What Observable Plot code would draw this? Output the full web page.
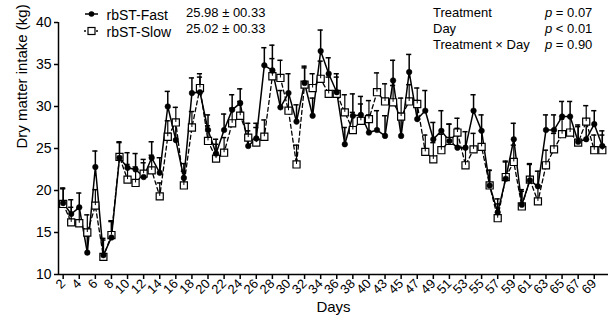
<!DOCTYPE html>
<html>
<head>
<meta charset="utf-8">
<script src="https://cdn.jsdelivr.net/npm/d3@7"></script>
<script src="https://cdn.jsdelivr.net/npm/@observablehq/plot@0.6"></script>
<style>
  body { margin: 0; background: #fff; }
  #wrap { position: relative; width: 610px; height: 322px; font-family: "Liberation Sans", Arial, sans-serif; }
  #wrap svg.overlay { position: absolute; left: 0; top: 0; pointer-events: none; }
  g[aria-label="x-axis tick label"] text { font-size: 13px; }
  g[aria-label="y-axis tick label"] text { font-size: 14px; }
  g[aria-label="x-axis tick"] path, g[aria-label="y-axis tick"] path { stroke-width: 1.5px; }
</style>
</head>
<body>
<div id="wrap"></div>
<script>
// Days (categorical positions on the x axis)
const days = [2,3,4,5,6,7,8,9,10,11,12,13,14,15,16,17,18,19,20,21,22,23,24,25,26,27,28,29,30,31,32,33,34,35,36,37,38,39,40,
              42,43,44,45,46,47,48,49,50,51,52,53,54,55,56,57,58,59,60,61,62,63,64,65,66,67,68,69,70];

// Dry matter intake, kg (means)
const fast = [18.5,17.2,18.0,12.6,22.8,12.3,14.4,23.9,22.7,22.5,21.6,23.9,22.1,30.0,26.0,21.5,31.6,31.7,27.2,24.4,
              27.2,29.6,30.4,25.3,26.2,34.9,34.3,29.9,31.6,28.2,32.8,28.9,36.6,33.9,31.7,25.5,28.9,29.0,26.9,27.2,
              26.5,33.1,26.5,34.1,28.5,29.5,26.1,27.1,25.9,25.1,25.1,29.5,27.1,20.6,17.4,21.4,26.1,18.3,21.2,20.5,
              27.2,27.2,28.8,28.8,25.8,26.1,27.9,25.3];
const slow = [18.4,16.2,16.1,15.0,18.2,12.1,14.7,24.0,21.3,20.9,22.0,22.4,19.3,26.4,28.1,20.6,27.5,32.2,25.9,23.8,
              24.5,28.0,28.9,26.3,25.7,26.4,33.6,33.4,29.5,23.1,32.6,32.2,33.3,31.5,31.5,29.3,27.2,28.3,28.5,31.7,
              30.6,30.5,28.8,30.6,30.3,24.6,23.7,24.8,25.9,26.9,23.0,24.9,25.2,20.6,16.7,21.6,23.4,18.1,21.3,18.7,
              23.0,24.9,26.7,26.9,25.7,28.2,24.8,24.8];

// Standard errors (upper bars only)
const seFast = [1.8,1.7,1.7,2.0,1.9,2.0,1.9,1.8,1.8,1.9,1.7,1.9,1.8,1.8,1.9,1.7,1.8,1.8,1.8,1.7,
                1.9,1.8,1.7,1.8,1.8,2.1,3.0,2.0,2.3,2.0,2.0,2.1,2.5,1.9,2.2,2.0,2.6,2.2,2.1,2.3,
                2.4,2.4,2.3,2.1,2.2,2.4,2.0,2.4,2.0,2.3,1.9,1.9,1.9,1.8,1.6,2.0,1.9,1.8,1.9,1.8,
                1.8,1.8,1.8,1.8,2.0,2.0,1.6,1.8];
const seSlow = [1.8,1.8,1.8,2.1,1.9,2.0,1.7,1.8,1.8,1.9,1.7,1.8,1.6,1.9,1.8,1.7,1.9,1.7,1.8,1.7,
                1.8,1.8,1.7,1.7,1.8,2.0,2.1,2.1,2.1,2.3,2.0,1.7,2.1,2.0,2.0,2.1,2.1,2.0,2.2,2.3,
                2.1,2.0,2.2,2.0,1.9,2.0,2.0,1.9,2.0,1.7,2.0,1.9,1.9,1.8,1.7,1.9,2.0,1.8,1.9,1.9,
                1.8,1.9,1.8,1.9,1.9,1.9,1.8,1.8];

const yTicks = [10,15,20,25,30,35,40];
const legendNames = ["rbST-Fast", "rbST-Slow"];
const legendStats = ["25.98 ± 00.33", "25.02 ± 00.33"];
const pNames = ["Treatment", "Day", "Treatment × Day"];
const pRel = ["=", "<", "="];
const pVals = ["0.07", "0.01", "0.90"];

const idx = days.map((d, i) => i);
const tickIdx = idx.filter(i => i % 2 === 0);
const rowsF = idx.map(i => ({i, v: fast[i], top: fast[i] + seFast[i]}));
const rowsS = idx.map(i => ({i, v: slow[i], top: slow[i] + seSlow[i]}));
const xDomain = [-0.58, idx.length - 1 + 0.77];
const cap = 0.32;

const chart = Plot.plot({
  width: 610, height: 322,
  marginLeft: 58, marginRight: 2, marginTop: 22, marginBottom: 48,
  style: {fontFamily: "Liberation Sans, Arial, sans-serif", fontSize: "14px", color: "black", background: "white"},
  x: {type: "linear", domain: xDomain, ticks: tickIdx, tickFormat: i => String(days[i]), tickRotate: -45, tickSize: 5, tickPadding: 2, label: null},
  y: {domain: [10, 40], ticks: yTicks, tickSize: 4, tickPadding: 3, label: null},
  marks: [
    Plot.ruleX([xDomain[0]], {stroke: "black", strokeWidth: 1.5}),
    Plot.ruleY([10], {stroke: "black", strokeWidth: 1.5}),
    Plot.line(rowsS, {x: "i", y: "v", stroke: "black", strokeWidth: 1.3, strokeDasharray: "4,3"}),
    Plot.line(rowsF, {x: "i", y: "v", stroke: "black", strokeWidth: 1.5}),
    Plot.ruleX(rowsS, {x: "i", y1: "v", y2: "top", stroke: "black", strokeWidth: 1.2}),
    Plot.ruleY(rowsS, {y: "top", x1: d => d.i - cap, x2: d => d.i + cap, stroke: "black", strokeWidth: 1.5}),
    Plot.ruleX(rowsF, {x: "i", y1: "v", y2: "top", stroke: "black", strokeWidth: 1.5}),
    Plot.ruleY(rowsF, {y: "top", x1: d => d.i - cap, x2: d => d.i + cap, stroke: "black", strokeWidth: 1.5}),
    Plot.dot(rowsS, {x: "i", y: "v", symbol: "square", r: 4, fill: "white", stroke: "black", strokeWidth: 1.2}),
    Plot.dot(rowsF, {x: "i", y: "v", r: 2.8, fill: "black", stroke: "black", strokeWidth: 0.5}),
    Plot.ruleX(rowsS, {x: "i", y1: "v", y2: d => d.v + 0.45, stroke: "black", strokeWidth: 1}),
    Plot.text(["Dry matter intake (kg)"], {frameAnchor: "left", rotate: -90, dx: -36, fontSize: 15, fill: "black"}),
    Plot.text(["Days"], {frameAnchor: "bottom", dy: 37, fontSize: 15, fill: "black"})
  ]
});
const wrap = document.getElementById("wrap");
wrap.appendChild(chart);

// Legend and statistics overlay
const ns = "http://www.w3.org/2000/svg";
const ov = document.createElementNS(ns, "svg");
ov.setAttribute("class", "overlay");
ov.setAttribute("width", 610); ov.setAttribute("height", 322);
function el(tag, attrs, text) {
  const e = document.createElementNS(ns, tag);
  for (const k in attrs) e.setAttribute(k, attrs[k]);
  if (text != null) e.textContent = text;
  ov.appendChild(e);
  return e;
}
const font = "Liberation Sans, Arial, sans-serif";
// swatches
el("line", {x1: 85, x2: 98, y1: 14, y2: 14, stroke: "black", "stroke-width": 1.5});
el("circle", {cx: 91.5, cy: 14, r: 2.8, fill: "black"});
el("line", {x1: 84, x2: 99, y1: 31, y2: 31, stroke: "black", "stroke-width": 1.3, "stroke-dasharray": "2,2"});
el("rect", {x: 88, y: 27.5, width: 7, height: 7, fill: "white", stroke: "black", "stroke-width": 1.2});
legendNames.forEach((n, k) => el("text", {x: 106.5, y: 20 + 17 * k, "font-family": font, "font-size": 14}, n));
legendStats.forEach((s, k) => el("text", {x: 186, y: 17.3 + 16 * k, "font-family": font, "font-size": 13}, s));
pNames.forEach((n, k) => {
  el("text", {x: 433, y: 17.3 + 16 * k, "font-family": font, "font-size": 13}, n);
  const t = el("text", {x: 545, y: 17.3 + 16 * k, "font-family": font, "font-size": 13});
  const a = document.createElementNS(ns, "tspan"); a.setAttribute("font-style", "italic"); a.textContent = "p";
  const b = document.createElementNS(ns, "tspan"); b.textContent = " " + pRel[k] + " " + pVals[k];
  t.appendChild(a); t.appendChild(b);
});
wrap.appendChild(ov);
</script>
</body>
</html>
